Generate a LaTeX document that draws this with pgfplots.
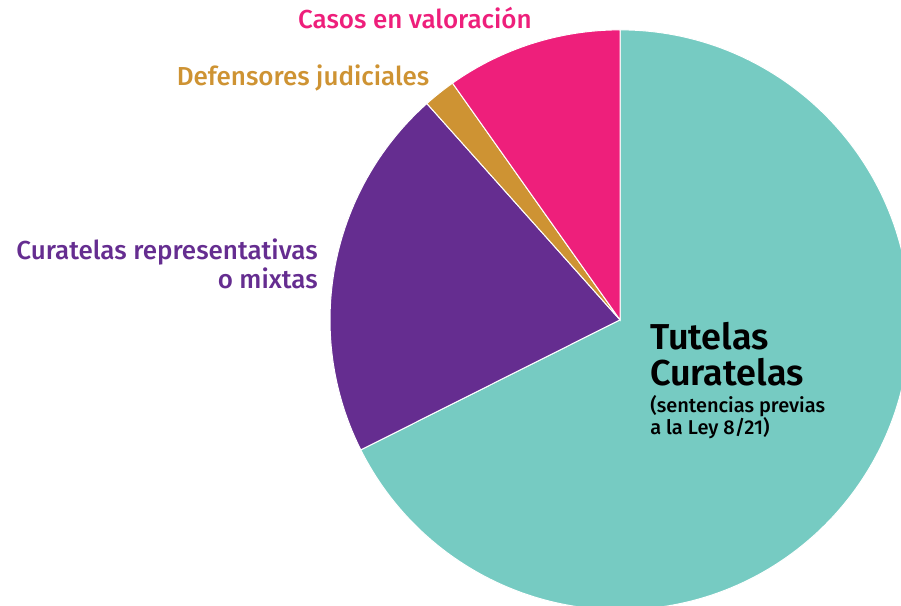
\documentclass[border=0pt]{standalone}
\usepackage{fontspec}
\setmainfont{Fira Sans}[UprightFont={* Medium}, BoldFont={* SemiBold}]
\usepackage{pgfplots}
\pgfplotsset{compat=1.18}
\definecolor{Teal}{HTML}{76CBC2}
\definecolor{Purple}{HTML}{652D90}
\definecolor{Orange}{HTML}{CE9333}
\definecolor{Pink}{HTML}{EE1F7B}

\begin{document}
\begin{tikzpicture}
% frame of the picture: the pie runs past the right and bottom edges
\clip (-310.01pt,-142.97pt) rectangle (140.505pt,159.935pt);
\begin{axis}[
  anchor=origin, at={(0,0)},
  x=145pt, y=145pt,
  xmin=-2.138, xmax=0.969,
  ymin=-0.986, ymax=1.103,
  hide axis,
  clip=false
]
% share of each slice in percent, clockwise from the top
\xdef\startang{90}
\foreach \v/\c in {67.6/Teal, 20.8/Purple, 1.8/Orange, 9.8/Pink} {
  \pgfmathsetmacro\sa{\startang}
  \pgfmathsetmacro\sb{\startang-3.6*\v}
  \edef\tmp{\noexpand\fill[\c,draw=white,line width=0.5pt] (axis cs:0,0) -- (axis cs:{cos(\sa)},{sin(\sa)}) arc[start angle=\sa,end angle=\sb,radius=145pt] -- cycle;}
  \tmp
  \xdef\startang{\sb}
}
\node[Pink,font=\fontsize{13}{15}\selectfont] at (axis cs:-0.707,1.041) {Casos en valoración};
\node[Orange,font=\fontsize{13}{15}\selectfont] at (axis cs:-1.093,0.834) {Defensores judiciales};
\node[Purple,font=\fontsize{13}{14.5}\selectfont,align=right,anchor=east,inner sep=0pt] at (axis cs:-1.041,0.193) {Curatelas representativas\\o mixtas};
\begin{scope}[every node/.style={black,anchor=base west,inner sep=0pt}]
\node[font=\fontsize{18}{20}\selectfont\bfseries] at (axis cs:0.103,-0.103) {Tutelas};
\node[font=\fontsize{18}{20}\selectfont\bfseries] at (axis cs:0.103,-0.226) {Curatelas};
\node[font=\fontsize{10}{12}\selectfont] at (axis cs:0.103,-0.320) {(sentencias previas};
\node[font=\fontsize{10}{12}\selectfont] at (axis cs:0.103,-0.396) {a la Ley 8/21)};
\end{scope}
\end{axis}
\end{tikzpicture}
\end{document}
